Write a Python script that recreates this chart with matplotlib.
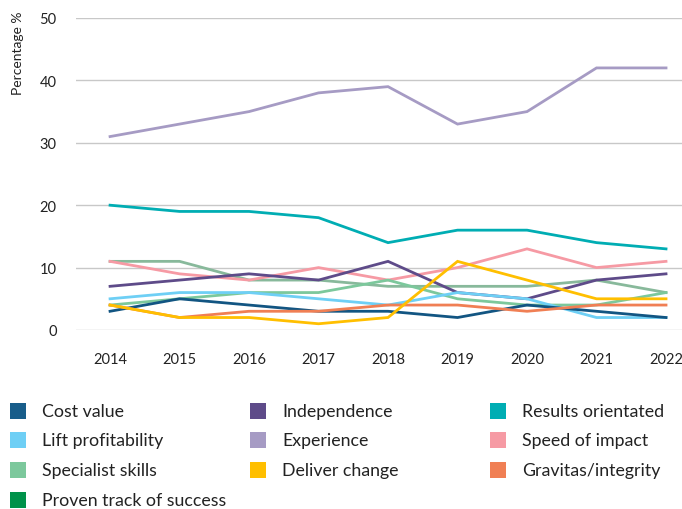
import matplotlib
matplotlib.use("Agg")
import matplotlib.pyplot as plt
from matplotlib.patches import Rectangle

plt.rcParams['font.family'] = ['Lato', 'DejaVu Sans']

years = [2014, 2015, 2016, 2017, 2018, 2019, 2020, 2021, 2022]

cost_value = [3, 5, 4, 3, 3, 2, 4, 3, 2]
independence = [7, 8, 9, 8, 11, 6, 5, 8, 9]
results_orientated = [20, 19, 19, 18, 14, 16, 16, 14, 13]
lift_profitability = [5, 6, 6, 5, 4, 6, 5, 2, 2]
experience = [31, 33, 35, 38, 39, 33, 35, 42, 42]
speed_of_impact = [11, 9, 8, 10, 8, 10, 13, 10, 11]
specialist_skills = [4, 5, 6, 6, 8, 5, 4, 4, 6]
deliver_change = [4, 2, 2, 1, 2, 11, 8, 5, 5]
gravitas_integrity = [4, 2, 3, 3, 4, 4, 3, 4, 4]
proven_track = [11, 11, 8, 8, 7, 7, 7, 8, 6]

# (label, values, line colour)
series = [
    ("Proven track of success", proven_track, "#88b99b"),
    ("Experience", experience, "#a69bc4"),
    ("Results orientated", results_orientated, "#00adb3"),
    ("Speed of impact", speed_of_impact, "#f69aa4"),
    ("Independence", independence, "#5e4b89"),
    ("Specialist skills", specialist_skills, "#7cc89c"),
    ("Lift profitability", lift_profitability, "#6ecff5"),
    ("Cost value", cost_value, "#125582"),
    ("Gravitas/integrity", gravitas_integrity, "#f07f54"),
    ("Deliver change", deliver_change, "#ffbf00"),
]

W, H = 682, 510
fig = plt.figure(figsize=(W / 100, H / 100), dpi=100)

ax_left, ax_right = 76, 682
ax_top, ax_bottom = 19, 331
ax = fig.add_axes([ax_left / W, 1 - ax_bottom / H,
                   (ax_right - ax_left) / W, (ax_bottom - ax_top) / H])

for label, vals, lc in series:
    ax.plot(years, vals, color=lc, lw=2.0, solid_joinstyle='miter', zorder=3)

ax.set_ylim(0, 50)
ax.set_yticks([0, 10, 20, 30, 40, 50])
ax.set_xlim(2013.51, 2022.23)
ax.set_xticks(years)
ax.set_xticklabels([str(y) for y in years])
ax.grid(axis='y', color='#c8c8c8', lw=1.0, zorder=0)
for s in ax.spines.values():
    s.set_visible(False)
ax.tick_params(axis='both', length=0, labelsize=10.5, colors='#222222')
ax.tick_params(axis='x', pad=16)
ax.tick_params(axis='y', pad=14)

fig.text(18 / W, 1 - 53 / H, "Percentage %", rotation=90, ha='center',
         va='center', fontsize=10, color='#222222')

# Legend laid out in three columns
legend_rows = [
    [("Cost value", "#185d8a"), ("Independence", "#5e4b89"), ("Results orientated", "#00adb3")],
    [("Lift profitability", "#6ecff5"), ("Experience", "#a69bc4"), ("Speed of impact", "#f69aa4")],
    [("Specialist skills", "#7cc89c"), ("Deliver change", "#ffbf00"), ("Gravitas/integrity", "#f07f54")],
    [("Proven track of success", "#00924a")],
]
col_x = [10, 250, 490]
row_y = [412, 441, 471, 501]
sq = 16
for r, row in enumerate(legend_rows):
    for c, (txt, col) in enumerate(row):
        x0 = col_x[c]
        yc = row_y[r]
        fig.add_artist(Rectangle((x0 / W, 1 - (yc + sq / 2) / H), sq / W, sq / H,
                                 transform=fig.transFigure, facecolor=col,
                                 edgecolor='none'))
        fig.text((x0 + 32) / W, 1 - yc / H, txt, ha='left', va='center',
                 fontsize=12.8, color='#222222')

fig.savefig("out.png", dpi=100)
